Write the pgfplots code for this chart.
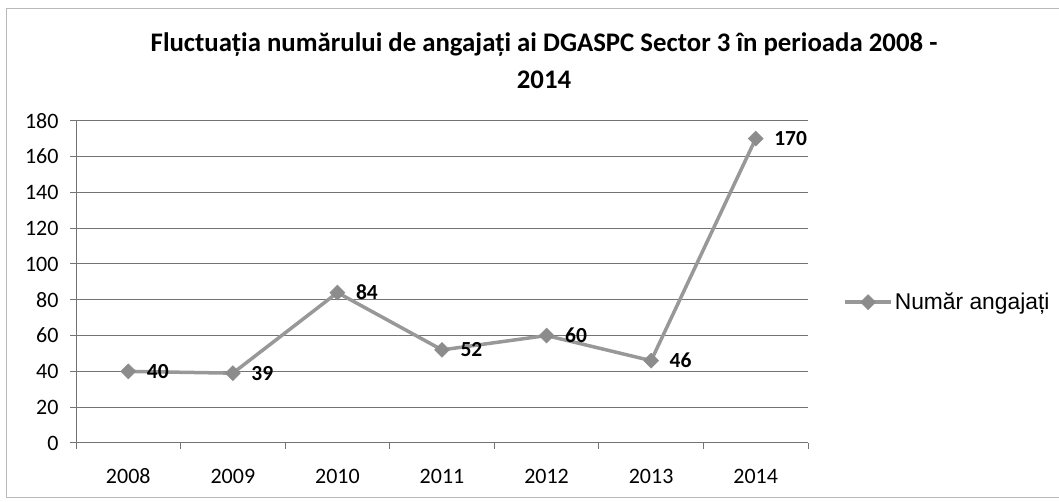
\documentclass[border=0pt]{standalone}
\usepackage{pgfplots}
\pgfplotsset{compat=1.18}
\usepackage{fontspec}
\setmainfont{Carlito}
\newfontfamily\arialf{Liberation Sans}
\definecolor{serie}{RGB}{152,152,152}
\definecolor{markc}{RGB}{140,140,140}
\definecolor{gridc}{RGB}{115,115,115}
\begin{document}
\begin{tikzpicture}[x=1pt,y=1pt]
\useasboundingbox (0,0) rectangle (1059,502);
\draw[gray!55, line width=1pt] (1059,493) -- (6,493) -- (6,4) -- (1059,4);
\node[font=\bfseries\fontsize{26.8}{30}\selectfont] at (544,457) {Fluctuația numărului de angajați ai DGASPC Sector 3 în perioada 2008 -};
\node[font=\bfseries\fontsize{26.8}{30}\selectfont] at (544,422) {2014};
\begin{axis}[
  at={(76pt,59pt)}, anchor=south west,
  scale only axis, width=732pt, height=322.3pt,
  xmin=-0.5, xmax=6.5, ymin=0, ymax=180,
  ytick={0,20,...,180},
  xtick={0,...,6},
  xticklabels={2008,2009,2010,2011,2012,2013,2014},
  minor xtick={-0.5,0.5,...,6.5},
  tick align=outside,
  major tick length=6pt, minor tick length=6pt,
  major x tick style={draw=none},
  minor x tick style={gridc, line width=1pt},
  major y tick style={gridc, line width=1pt},
  axis x line*=bottom, axis y line*=left,
  axis line style={gridc, line width=1pt, -},
  ymajorgrids, grid style={gridc, line width=1pt},
  ticklabel style={font=\fontsize{22}{26}\selectfont, black},
  yticklabel style={xshift=-8pt},
  xticklabel style={anchor=north, text height=14pt, text depth=0pt, yshift=-17pt},
  /pgf/number format/assume math mode=true,
  legend style={at={(1.048,0.437)}, anchor=west, draw=none, fill=none,
    font=\arialf\fontsize{22.8}{26}\selectfont, inner sep=0pt,
    legend cell align=left},
  legend image code/.code={\draw[#1, mark repeat=2, mark phase=2] plot coordinates {(0pt,0pt) (23pt,0pt) (46pt,0pt)};},
  clip=false,
]
\addplot[serie, line width=3.5pt, mark=square*, mark size=5.3pt,
  mark options={rotate=45, fill=markc, draw=markc, line width=0.5pt},
  nodes near coords,
  every node near coord/.append style={anchor=west, xshift=15pt, text=black,
    font=\bfseries\fontsize{21.5}{25}\selectfont}]
  coordinates {(0,40) (1,39) (2,84) (3,52) (4,60) (5,46) (6,170)};
\addlegendentry{Număr angajați}
\end{axis}
\end{tikzpicture}
\end{document}
